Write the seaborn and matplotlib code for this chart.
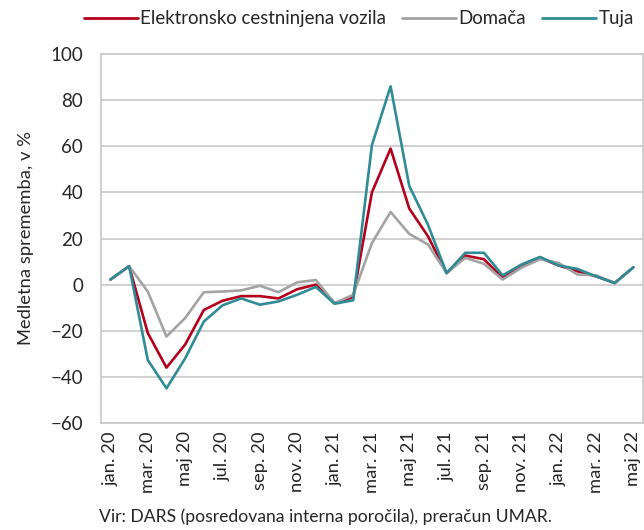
import matplotlib.pyplot as plt
import numpy as np
import pandas as pd
import seaborn as sns

# monthly labels jan. 20 .. maj 22
months = ["jan.", "feb.", "mar.", "apr.", "maj", "jun.", "jul.", "avg.", "sep.", "okt.", "nov.", "dec."]
labels = []
for yy in ["20", "21", "22"]:
    for m in months:
        labels.append(m + " " + yy)
labels = labels[:29]

# year-on-year change, %
elektronsko = [2.2, 8, -21, -36, -26, -11, -7, -5, -5, -6, -2, 0, -8, -5.4,
               40, 59, 33, 21, 5, 12.6, 11, 3, 8, 11.6, 8.3, 5.8, 3.6, 0.7, 7.5]
domaca = [2.2, 8, -3, -22.5, -14.5, -3.3, -3, -2.5, -0.5, -3.3, 1, 2, -8, -4.4,
          18, 31.5, 22, 17.4, 5, 11.6, 9, 2.2, 7.3, 11, 9.4, 4.4, 4, 0.7, 7.5]
tuja = [2.2, 8, -32.7, -45, -32, -16, -9, -6, -8.7, -7.3, -4.4, -1, -8.3, -6.8,
        60.5, 86, 42.8, 26, 5, 13.8, 13.8, 4, 8.7, 12, 8.3, 6.8, 3.6, 0.7, 7.5]

series = ["Elektronsko cestninjena vozila", "Domača", "Tuja"]
colors = ["#b5001c", "#a3a3a3", "#2f8c96"]

df = pd.DataFrame({
    "mesec": np.tile(np.arange(len(labels)), 3),
    "value": elektronsko + domaca + tuja,
    "serija": np.repeat(series, len(labels)),
})

sns.set_style("white")
plt.rcParams['font.family'] = ['Lato', 'DejaVu Sans']

fig, ax = plt.subplots(figsize=(6.44, 5.30), dpi=100)
fig.subplots_adjust(left=0.157, right=0.998, bottom=0.202, top=0.898)

sns.lineplot(data=df, x="mesec", y="value", hue="serija", hue_order=series,
             palette=colors, linewidth=1.9, ax=ax, legend=False)

ax.set_xlim(-0.5, len(labels) - 0.5)
ax.set_ylim(-60, 100)
ax.set_yticks(range(-60, 101, 20))
ax.set_xticks(range(0, len(labels), 2))
ax.set_xticklabels(labels[::2], rotation=90, fontsize=13.2)
ax.tick_params(axis="y", labelsize=13.5, length=0, pad=13)
ax.tick_params(axis="x", length=0, pad=6)
ax.yaxis.grid(True, color="#c8c8c8", linewidth=1.2)
ax.set_axisbelow(True)
for s in ax.spines.values():
    s.set_color("#c8c8c8")
    s.set_linewidth(1.2)

ax.set_xlabel("")
ax.set_ylabel("Medletna sprememba, v %", fontsize=13.2, labelpad=12)

handles = [plt.Line2D([], [], color=c, linewidth=2.0) for c in colors]
fig.legend(handles, series, loc="upper right", bbox_to_anchor=(1.01, 1.012),
           ncol=3, frameon=False, fontsize=13.4, handlelength=2.9,
           handletextpad=0.1, columnspacing=0.9)

fig.text(0.153, 0.016, "Vir: DARS (posredovana interna poročila), preračun UMAR.",
         fontsize=12.6)

fig.savefig("out.png", dpi=100)
